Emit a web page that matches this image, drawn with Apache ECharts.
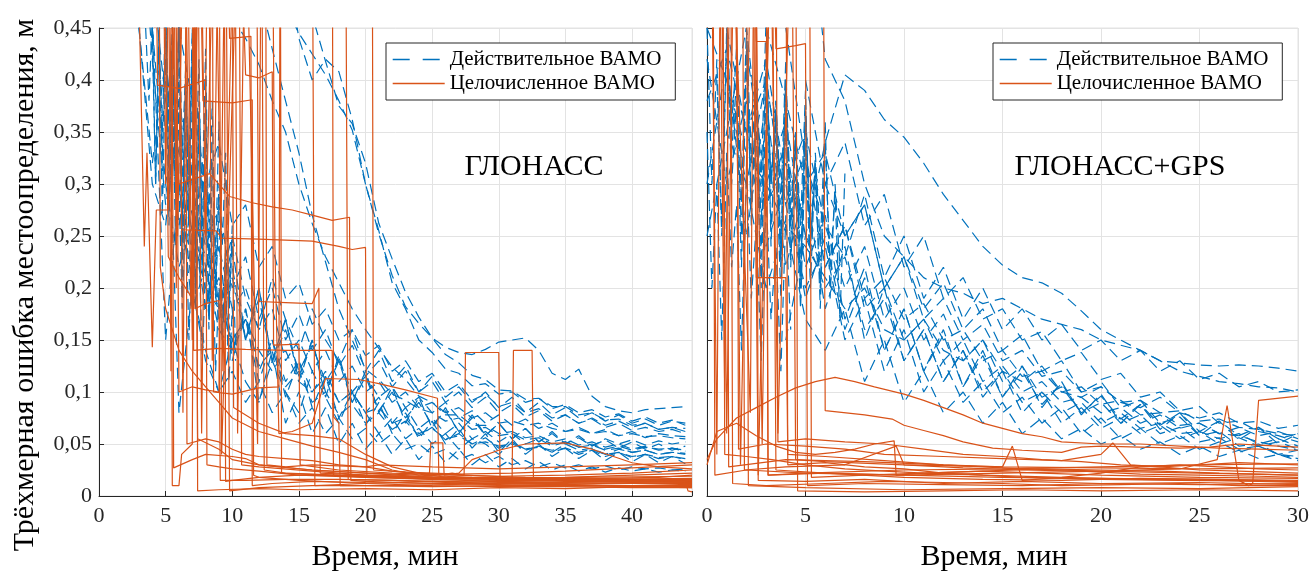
<!DOCTYPE html>
<html>

<head>
    <meta charset="utf-8">
    <title>ВАМО: ГЛОНАСС и ГЛОНАСС+GPS</title>
    <script src="https://cdn.jsdelivr.net/npm/echarts@6/dist/echarts.min.js"></script>
</head>

<body style="margin:0">
    <div id="main" style="width: 1312px;height:576px;"></div>
    <script type="text/javascript">
        // ---- data (errors in millimetres, time in minutes) ----
        var floatName = 'Действительное ВАМО';
        var fixName = 'Целочисленное ВАМО';
        var FLOAT_STEP = 1;
        var BURST_STEP = 0.25;

        // ГЛОНАСС, float solutions: start minute + values
        var gloFloatStart = [12, 14, 15, 12, 10, 3, 2, 4, 5, 4, 5, 6, 7, 3, 8, 5, 6, 9, 4];
        var gloFloatMm = [
            [600, 520, 470, 445, 425, 405, 380, 352, 300, 255, 205, 180, 150, 138, 122, 118, 106, 108, 98, 100, 90, 94, 84, 88, 80, 83, 76, 79, 72, 76, 70, 73, 68],
            [520, 440, 400, 420, 408, 362, 300, 252, 212, 182, 166, 152, 143, 138, 136, 141, 148, 150, 152, 140, 118, 112, 122, 96, 86, 82, 80, 83, 84, 85, 86],
            [500, 462, 418, 375, 358, 320, 262, 228, 196, 172, 152, 136, 128, 116, 112, 102, 101, 93, 94, 86, 86, 78, 80, 73, 74, 68, 70, 64, 66, 62],
            [480, 430, 380, 330, 270, 225, 180, 150, 122, 112, 98, 92, 84, 80, 72, 75, 64, 66, 58, 60, 54, 56, 50, 52, 47, 49, 44, 46, 42, 44, 40, 42, 40],
            [460, 440, 415, 380, 350, 300, 262, 230, 205, 180, 160, 142, 124, 112, 96, 90, 78, 78, 68, 68, 60, 62, 56, 58, 52, 55, 49, 52, 47, 50, 45, 48, 44, 46, 43],
            [600, 420, 280, 350, 250, 200, 180, 150, 170, 140, 120, 140, 110, 100, 120, 90, 100, 80, 85, 70, 75, 60, 65, 55, 58, 50, 52, 48, 50, 45, 47, 44, 46, 42, 45, 40, 42, 38, 40, 37, 38, 36],
            [600, 450, 300, 260, 380, 300, 220, 240, 180, 200, 160, 180, 130, 150, 120, 140, 110, 125, 100, 110, 90, 100, 85, 90, 80, 85, 75, 80, 70, 72, 68, 70, 65, 62, 64, 60, 62, 58, 60, 57, 58, 56, 55],
            [460, 150, 300, 200, 140, 100, 120, 90, 110, 80, 100, 70, 85, 60, 75, 55, 65, 50, 60, 45, 50, 40, 45, 35, 40, 32, 38, 30, 34, 28, 32, 27, 30, 26, 29, 25, 28, 26, 27, 25, 26],
            [450, 80, 200, 130, 100, 150, 110, 90, 130, 100, 80, 120, 95, 70, 100, 80, 60, 75, 55, 65, 50, 60, 45, 55, 50, 40, 52, 45, 48, 42, 50, 44, 46, 40, 45, 42, 44, 40, 42, 41],
            [500, 380, 330, 270, 230, 200, 250, 190, 160, 210, 170, 140, 180, 150, 130, 160, 120, 140, 110, 125, 100, 115, 95, 105, 90, 100, 85, 95, 80, 90, 78, 85, 75, 80, 72, 78, 70, 74, 68, 72, 70],
            [420, 300, 180, 220, 160, 140, 180, 120, 150, 110, 130, 100, 115, 90, 100, 80, 95, 70, 85, 65, 75, 60, 70, 55, 62, 52, 60, 50, 55, 48, 52, 47, 50, 45, 48, 44, 47, 45, 46, 44],
            [350, 200, 260, 170, 210, 150, 190, 130, 160, 120, 145, 110, 130, 100, 115, 95, 105, 85, 95, 80, 90, 75, 82, 70, 78, 68, 74, 65, 70, 62, 66, 60, 64, 58, 62, 56, 60, 58, 57],
            [300, 240, 280, 200, 230, 170, 200, 150, 175, 140, 160, 125, 145, 115, 130, 105, 120, 100, 110, 90, 100, 85, 95, 80, 88, 76, 82, 72, 78, 70, 75, 68, 72, 66, 70, 64, 66, 65],
            [450, 320, 420, 260, 330, 180, 240, 130, 180, 90, 140, 70, 100, 60, 85, 50, 70, 45, 60, 40, 55, 35, 48, 32, 45, 30, 40, 28, 36, 26, 33, 25, 30, 24, 28, 23, 27, 24, 26, 23, 25, 24],
            [250, 180, 220, 150, 200, 130, 170, 110, 150, 95, 135, 90, 120, 80, 105, 70, 95, 65, 85, 60, 78, 58, 70, 55, 65, 52, 62, 50, 58, 48, 55, 50, 54, 49, 53, 50, 52],
            [300, 220, 260, 180, 210, 150, 170, 125, 140, 105, 120, 90, 100, 78, 88, 70, 80, 64, 72, 58, 66, 54, 60, 50, 56, 46, 52, 44, 48, 42, 46, 40, 44, 38, 42, 37, 40, 36, 38, 35],
            [450, 380, 300, 340, 260, 280, 220, 240, 190, 205, 165, 180, 150, 160, 135, 145, 120, 130, 110, 118, 100, 108, 92, 98, 86, 90, 80, 84, 75, 78, 70, 74, 66, 70, 63, 66, 62, 64, 60],
            [200, 140, 170, 110, 150, 95, 130, 85, 115, 75, 100, 68, 90, 60, 80, 55, 72, 50, 65, 46, 60, 42, 55, 40, 50, 38, 46, 36, 44, 34, 42, 33, 40, 32, 38, 31],
            [450, 300, 380, 220, 300, 180, 240, 150, 200, 130, 170, 115, 150, 100, 130, 90, 115, 82, 100, 75, 90, 68, 82, 62, 75, 58, 70, 55, 65, 52, 60, 50, 56, 48, 54, 46, 52, 45, 50, 44, 48]
        ];
        var gloBurstStart = [3.5, 4.5, 5, 5.5, 6, 4];
        var gloBurstMm = [
            [450, 380, 460, 300, 440, 350, 470, 280, 420, 330, 460, 260, 400, 310, 450, 240, 380, 290, 430, 220, 350],
            [460, 320, 450, 260, 420, 300, 460, 230, 390, 280, 440, 200, 350, 250, 400, 180, 320, 230, 360, 170],
            [470, 350, 440, 280, 460, 330, 410, 250, 380, 300, 420, 220, 340, 270, 380, 200, 300, 240, 330, 180, 260],
            [400, 240, 380, 200, 350, 260, 330, 180, 300, 220, 310, 160, 270, 190, 280, 150, 240, 170, 250, 140],
            [300, 180, 280, 150, 260, 200, 240, 130, 220, 170, 230, 120, 200, 150, 210, 110, 180, 130],
            [440, 300, 450, 270, 420, 320, 460, 290, 410, 250, 400, 300, 430, 230, 370, 260]
        ];
        // ГЛОНАСС, integer (fixed) solutions: [minute, mm]
        var gloFixMm = [
            [[2.8, 600], [3.4, 240], [3.6, 330], [4, 143], [4.3, 275], [5.2, 275], [5.4, 450], [5.5, 10], [6, 10], [6.2, 40], [7, 50], [7.2, 500], [7.4, 55], [9, 45], [10, 35], [12, 30], [16, 25], [20, 22], [25, 18], [30, 16], [35, 15], [40, 14], [44.5, 13]],
            [[4.2, 600], [4.4, 395], [6, 392], [8, 400], [8.1, 30], [9, 28], [10, 26], [12, 24], [15, 20], [20, 18], [25, 17], [30, 16], [35, 15], [40, 14], [44.5, 14]],
            [[5, 600], [6, 300], [8.3, 310], [9.8, 288], [11.5, 282], [13, 278], [14.5, 275], [16, 270], [17.5, 265], [18.8, 268], [18.9, 15], [20, 14], [25, 12], [30, 11], [35, 10], [40, 10], [44.5, 9]],
            [[6, 600], [6.2, 256], [8.8, 255], [9.2, 248], [12, 247], [16, 245], [18, 240], [19, 237], [20, 239], [20.1, 20], [22, 18], [25, 16], [30, 14], [35, 13], [40, 12], [44.5, 12]],
            [[7.5, 600], [7.8, 380], [10, 378], [11.5, 381], [11.6, 20], [12, 18], [15, 15], [20, 12], [25, 10], [30, 9], [35, 9], [40, 8], [44.5, 8]],
            [[9.5, 600], [9.8, 440], [11.4, 442], [11.5, 10], [13, 12], [16, 14], [20, 13], [25, 12], [30, 12], [35, 11], [40, 10], [44.5, 10]],
            [[10.5, 600], [11, 405], [12, 402], [13, 408], [13.1, 145], [15, 146], [15.1, 30], [18, 25], [22, 22], [27, 20], [32, 18], [38, 16], [44.5, 15]],
            [[11.8, 600], [12, 187], [14, 186], [16, 185], [16.5, 200], [16.6, 22], [20, 20], [25, 18], [30, 17], [35, 16], [40, 15], [44.5, 15]],
            [[7, 600], [7.1, 140], [9, 142], [11, 141], [14, 140], [17.5, 140], [17.6, 20], [20, 18], [25, 16], [30, 15], [35, 14], [40, 14], [44.5, 13]],
            [[13, 600], [13.2, 240], [13.5, 60], [14.5, 62], [16, 70], [17, 113], [19.5, 112], [21, 108], [23, 102], [25.4, 94], [25.5, 20], [26.5, 22], [27.4, 20], [27.5, 138], [30, 138], [30.1, 15], [31, 16], [31.1, 140], [32.5, 140], [32.6, 18], [35, 17], [40, 16], [44.5, 16]],
            [[5.5, 450], [5.6, 27], [7, 35], [8, 40], [10, 38], [11, 36], [12, 30], [16, 25], [20, 22], [24, 20], [24.8, 22], [24.9, 51], [25.8, 51], [25.9, 20], [27, 22], [28, 35], [30, 44], [32, 50], [35, 51], [37, 45], [40, 32], [42, 28], [44.5, 26]],
            [[7.3, 600], [7.4, 5], [9, 6], [12, 7], [15, 6], [20, 7], [25, 6], [30, 8], [35, 7], [40, 9], [44.5, 8]],
            [[6.5, 600], [6.6, 50], [8, 55], [9, 52], [10, 45], [11, 40], [12, 38], [14, 36], [16, 34], [18, 30], [20, 28], [22, 24], [24, 22], [27, 20], [30, 19], [35, 20], [40, 22], [44.5, 25]],
            [[8.5, 600], [8.6, 100], [10, 98], [12, 104], [13.5, 105], [13.6, 600], [13.7, 22], [17, 20], [22, 18], [28, 17], [34, 16], [40, 15], [44.5, 14]],
            [[9.4, 600], [9.5, 14], [10, 15], [12, 18], [15, 20], [20, 19], [25, 18], [30, 17], [35, 18], [40, 20], [44.5, 22]],
            [[10, 600], [10.1, 85], [12, 70], [14, 60], [16, 58], [18, 55], [20, 40], [22, 28], [24, 22], [26, 18], [30, 16], [35, 15], [40, 14], [44.5, 13]],
            [[4.5, 600], [4.6, 220], [5, 180], [6, 140], [7, 120], [8, 105], [9, 90], [10, 75], [12, 62], [14, 55], [16, 48], [18, 42], [20, 35], [22, 25], [24, 20], [28, 18], [32, 17], [36, 16], [40, 16], [44.5, 15]],
            [[12.5, 600], [12.6, 30], [14, 28], [16, 30], [18, 29], [20, 28], [21, 30], [25, 28], [30, 26], [35, 28], [40, 30], [44.5, 32]],
            [[16, 600], [16.2, 10], [20, 12], [25, 14], [30, 12], [35, 11], [40, 13], [44.5, 12]],
            [[17.5, 600], [17.6, 76], [18, 70], [18.1, 10], [22, 10], [26, 11], [30, 12], [35, 12], [40, 13], [44, 14], [44.2, 5], [44.5, 4]],
            [[18.5, 600], [18.7, 16], [22, 15], [26, 13], [30, 14], [34, 15], [38, 17], [42, 18], [44.5, 20]],
            [[20.5, 600], [20.6, 25], [23, 23], [27, 21], [31, 22], [35, 24], [40, 27], [44.5, 30]],
            [[5, 450], [5.2, 230], [6, 210], [7, 190], [7.1, 600], [7.2, 180], [8, 185], [9, 188], [9.1, 15], [11, 15], [14, 16], [18, 16], [22, 15], [26, 14], [30, 13], [35, 13], [40, 12], [44.5, 11]],
            [[4, 600], [4.2, 450], [4.5, 600], [5.8, 450], [6, 100], [7, 105], [8, 102], [9, 100], [9.5, 600], [9.8, 5], [12, 8], [16, 10], [20, 10], [25, 9], [30, 10], [35, 10], [40, 9], [44.5, 10]],
            [[5.2, 600], [5.4, 120], [5.6, 600], [5.8, 200], [6, 600], [6.3, 80], [6.6, 600], [7, 150], [7.4, 600], [7.7, 60], [8.2, 600], [8.5, 130], [9, 600], [9.2, 40], [10.5, 600], [10.7, 30], [12, 28], [16, 24], [20, 20], [26, 18], [32, 17], [38, 16], [44.5, 17]],
            [[4.8, 600], [5, 300], [5.3, 600], [5.9, 250], [6.4, 600], [6.9, 180], [7.6, 600], [8, 250], [8.7, 600], [9.3, 120], [10.2, 600], [10.4, 60], [11, 600], [11.9, 50], [12.2, 600], [12.4, 25], [14, 22], [18, 20], [24, 18], [30, 17], [36, 18], [44.5, 19]]
        ];

        // ГЛОНАСС+GPS, float solutions
        var gpsFloatStart = [4, 5, 0, 0, 0, 1, 2, 0, 3, 1, 4, 2, 6, 5, 0, 1];
        var gpsFloatMm = [
            [150, 250, 340, 405, 390, 362, 345, 320, 290, 265, 240, 222, 210, 205, 195, 178, 160, 150, 140, 130, 128, 126, 125, 126, 125, 123, 120],
            [600, 420, 380, 300, 250, 230, 210, 200, 195, 185, 190, 180, 170, 165, 160, 150, 145, 140, 130, 120, 115, 110, 108, 105, 104, 100],
            [450, 400, 330, 300, 260, 240, 210, 180, 200, 160, 150, 170, 140, 130, 150, 120, 110, 125, 100, 95, 105, 90, 85, 95, 80, 75, 80, 70, 72, 65, 68],
            [380, 430, 350, 280, 320, 250, 220, 260, 190, 210, 170, 185, 150, 160, 130, 140, 115, 120, 100, 105, 88, 92, 78, 80, 68, 70, 60, 58, 52, 48, 44],
            [300, 420, 250, 380, 220, 300, 180, 240, 150, 200, 130, 160, 110, 140, 100, 120, 90, 100, 80, 90, 70, 80, 65, 70, 60, 62, 55, 60, 50, 55, 48],
            [450, 350, 400, 280, 330, 220, 260, 180, 200, 150, 170, 130, 150, 110, 125, 100, 110, 90, 95, 80, 85, 70, 78, 65, 70, 60, 66, 58, 62, 55],
            [430, 300, 360, 250, 200, 230, 160, 190, 130, 160, 110, 140, 95, 120, 80, 100, 70, 85, 65, 75, 60, 68, 55, 62, 50, 56, 48, 52, 45],
            [250, 350, 300, 400, 280, 200, 240, 150, 190, 120, 160, 100, 130, 90, 110, 80, 95, 70, 85, 60, 75, 55, 65, 50, 58, 45, 52, 42, 48, 40, 44],
            [450, 380, 300, 330, 250, 280, 200, 230, 170, 190, 150, 165, 130, 140, 115, 120, 100, 105, 90, 92, 80, 82, 72, 74, 66, 64, 60, 58],
            [400, 300, 200, 260, 170, 140, 180, 110, 150, 90, 120, 80, 100, 70, 90, 60, 75, 55, 65, 50, 58, 45, 52, 40, 48, 38, 44, 36, 40, 34],
            [450, 320, 260, 200, 240, 170, 200, 150, 175, 130, 150, 110, 125, 95, 105, 80, 90, 70, 78, 60, 66, 52, 56, 45, 48, 40, 36],
            [350, 420, 300, 350, 260, 230, 290, 210, 250, 190, 220, 170, 200, 160, 180, 150, 165, 140, 150, 130, 140, 120, 130, 112, 118, 105, 110, 100, 102],
            [300, 250, 280, 200, 230, 180, 205, 160, 180, 140, 155, 120, 130, 100, 110, 85, 92, 70, 76, 58, 62, 48, 50, 40, 38],
            [400, 300, 340, 260, 290, 220, 250, 190, 210, 170, 180, 150, 158, 130, 138, 112, 118, 95, 100, 82, 86, 70, 72, 62, 58, 52],
            [420, 300, 380, 240, 300, 190, 250, 160, 210, 140, 180, 120, 160, 105, 140, 95, 125, 85, 110, 78, 98, 70, 88, 64, 80, 58, 72, 54, 66, 50, 60],
            [350, 450, 280, 340, 220, 270, 170, 220, 140, 180, 120, 155, 105, 135, 95, 120, 88, 108, 80, 96, 74, 88, 68, 80, 62, 72, 58, 66, 55, 60]
        ];
        var gpsBurstStart = [0, 0.5, 1, 2, 0, 3];
        var gpsBurstMm = [
            [450, 300, 420, 260, 450, 330, 400, 250, 430, 280, 380, 230, 410, 300, 360, 220, 390, 260, 340, 200, 370, 240, 320],
            [400, 250, 440, 300, 380, 220, 420, 280, 350, 200, 390, 260, 330, 190, 360, 230, 300, 180, 340, 210],
            [460, 350, 430, 280, 450, 320, 400, 260, 420, 300, 370, 240, 400, 280, 340, 220, 370, 250, 310, 200, 340],
            [450, 260, 400, 300, 460, 240, 380, 280, 420, 220, 350, 260, 390, 200, 330, 240, 360, 190, 300, 220],
            [350, 200, 300, 150, 330, 220, 280, 140, 310, 190, 260, 130, 290, 170, 240, 120, 270, 160],
            [420, 300, 380, 220, 400, 260, 350, 200, 370, 240, 320, 180, 340, 220, 290, 170, 310]
        ];
        var gpsFixMm = [
            [[0, 35], [0.5, 55], [1.5, 75], [2.5, 85], [3.5, 95], [4.5, 104], [5.5, 110], [6.5, 114], [7.5, 110], [8.5, 105], [10, 98], [11, 92], [12, 85], [13, 78], [14, 70], [15, 65], [16, 60], [17, 57], [18, 52], [20, 50], [22, 50], [24, 48], [26, 46], [28, 45], [30, 44]],
            [[0, 30], [0.5, 62], [1.5, 70], [2.5, 58], [3.5, 48], [4.5, 42], [5.5, 40], [6.5, 42], [7.5, 45], [8.5, 50], [9.5, 53], [9.6, 20], [11, 22], [14, 24], [17, 22], [20, 20], [25, 18], [30, 17]],
            [[5.9, 600], [6, 82], [8, 78], [9.4, 74], [10, 68], [11, 63], [12, 58], [13, 52], [14.5, 46], [16, 44], [18, 42], [19, 47], [20, 48], [22, 47], [24, 46], [25.5, 47], [26, 48], [27, 50], [28, 49], [29, 48], [30, 47]],
            [[0.3, 600], [0.4, 20], [2, 25], [5, 22], [10, 20], [15, 22], [20, 24], [24, 26], [25.9, 35], [26.4, 87], [27, 15], [27.5, 10], [27.7, 12], [28, 92], [30, 96]],
            [[1, 600], [1.1, 28], [4, 35], [8, 33], [12, 30], [15, 28], [15.5, 48], [16, 15], [18, 18], [20, 22], [22, 28], [24, 30], [26, 28], [28, 26], [30, 25]],
            [[1.5, 600], [1.6, 45], [3, 50], [5, 48], [7, 45], [9, 40], [12, 38], [15, 36], [18, 34], [20, 40], [20.6, 51], [21.5, 30], [23, 28], [25, 30], [27, 32], [30, 30]],
            [[2, 600], [2.1, 10], [5, 8], [10, 6], [15, 7], [20, 8], [25, 7], [30, 9]],
            [[2.5, 600], [2.6, 15], [5, 14], [8, 16], [12, 12], [16, 14], [20, 12], [25, 13], [30, 11]],
            [[3, 600], [3.1, 20], [6, 22], [10, 18], [14, 16], [18, 15], [22, 17], [26, 16], [30, 14]],
            [[3.5, 600], [3.6, 52], [5, 55], [7, 52], [9, 50], [11, 45], [13, 40], [15, 38], [17, 35], [19, 33], [21, 30], [23, 28], [25, 25], [27, 24], [30, 22]],
            [[4, 600], [4.1, 30], [6, 32], [8, 28], [10, 26], [12, 22], [14, 20], [16, 18], [20, 16], [24, 15], [30, 14]],
            [[4.5, 600], [4.6, 5], [8, 4], [12, 5], [16, 6], [20, 5], [25, 6], [30, 5]],
            [[0.8, 600], [0.9, 40], [2, 38], [3.3, 35], [5, 30], [7, 26], [9, 24], [11, 22], [14, 20], [18, 18], [22, 16], [26, 15], [30, 13]],
            [[5.2, 600], [5.3, 18], [8, 20], [11, 22], [14, 24], [17, 26], [20, 25], [23, 24], [26, 22], [30, 20]],
            [[1.2, 600], [1.3, 12], [3, 10], [6, 12], [9, 14], [12, 13], [15, 12], [18, 10], [21, 11], [24, 12], [27, 10], [30, 10]],
            [[1.8, 600], [1.9, 25], [4, 28], [7, 30], [9.6, 48], [10, 30], [13, 27], [16, 25], [19, 24], [22, 21], [25, 20], [28, 19], [30, 18]],
            [[0, 450], [0.2, 600], [0.5, 40], [0.7, 600], [1, 60], [1.4, 600], [1.7, 30], [2.3, 600], [2.6, 20], [3.3, 600], [3.5, 25], [6, 22], [10, 20], [15, 18], [20, 17], [25, 16], [30, 15]],
            [[0.6, 600], [0.9, 100], [1.2, 600], [2.2, 80], [2.4, 600], [2.8, 50], [3.2, 600], [3.6, 60], [4.3, 600], [4.5, 35], [6, 33], [10, 30], [15, 28], [20, 27], [25, 26], [30, 27]],
            [[2.3, 600], [2.5, 437], [3, 437], [3.1, 20], [5, 22], [10, 25], [15, 26], [20, 28], [25, 30], [30, 31]],
            [[3.3, 600], [3.5, 430], [4.5, 433], [5, 435], [5.1, 10], [8, 12], [12, 11], [16, 10], [20, 12], [25, 11], [30, 12]],
            [[2.4, 600], [2.5, 210], [4, 210], [4.1, 40], [6, 38], [9, 34], [12, 30], [16, 26], [20, 24], [25, 22], [30, 20]]
        ];

        var yTicks = { min: 0, max: 0.45, interval: 0.05 };

        // ---- chart ----
        var chartDom = document.getElementById('main');
        var myChart = echarts.init(chartDom);
        var option;

        var BLUE = '#0072BD';
        var ORANGE = '#D95319';
        var FONT = "'Liberation Serif', 'Times New Roman', serif";
        var TXT = '#262626';

        function stepData(start, vals, step) {
            return vals.map(function (v, i) { return [start + i * step, v / 1000]; });
        }

        function pairData(pts) {
            return pts.map(function (p) { return [p[0], p[1] / 1000]; });
        }

        function line(name, data, idx, color, dashed) {
            return {
                name: name,
                type: 'line',
                xAxisIndex: idx,
                yAxisIndex: idx,
                data: data,
                symbol: 'none',
                showSymbol: false,
                silent: true,
                clip: true,
                lineStyle: { color: color, width: 1.2, type: dashed ? [11, 6] : 'solid' },
                itemStyle: { color: color },
                emphasis: { disabled: true }
            };
        }

        var series = [];
        function addPanel(idx, fStart, fVals, bStart, bVals, fix) {
            fVals.forEach(function (v, i) {
                series.push(line(floatName, stepData(fStart[i], v, FLOAT_STEP), idx, BLUE, true));
            });
            bVals.forEach(function (v, i) {
                series.push(line(floatName, stepData(bStart[i], v, BURST_STEP), idx, BLUE, true));
            });
            fix.forEach(function (p) {
                series.push(line(fixName, pairData(p), idx, ORANGE, false));
            });
        }
        addPanel(0, gloFloatStart, gloFloatMm, gloBurstStart, gloBurstMm, gloFixMm);
        addPanel(1, gpsFloatStart, gpsFloatMm, gpsBurstStart, gpsBurstMm, gpsFixMm);

        function xAxis(idx, max) {
            return {
                type: 'value', gridIndex: idx, min: 0, max: max, interval: 5,
                axisLine: { onZero: false, lineStyle: { color: TXT, width: 1 } },
                axisTick: { inside: true, length: 5, lineStyle: { color: TXT } },
                axisLabel: {
                    color: TXT, fontFamily: FONT, fontSize: 22, margin: 9,
                    formatter: function (v) { return v % 5 === 0 ? String(v) : ''; }
                },
                splitLine: { show: true, lineStyle: { color: '#e3e3e3', width: 1 } }
            };
        }
        function yAxis(idx, showLabels) {
            return {
                type: 'value', gridIndex: idx, min: yTicks.min, max: yTicks.max, interval: yTicks.interval,
                axisLine: { show: true, onZero: false, lineStyle: { color: TXT, width: 1 } },
                axisTick: { show: true, inside: true, length: 5, lineStyle: { color: TXT } },
                axisLabel: {
                    show: showLabels, color: TXT, fontFamily: FONT, fontSize: 22, margin: 7,
                    formatter: function (v) {
                        return v === 0 ? '0' : String(Math.round(v * 100) / 100).replace('.', ',');
                    }
                },
                splitLine: { show: true, lineStyle: { color: '#e3e3e3', width: 1 } }
            };
        }
        function legend(left) {
            return {
                left: left, top: 43, orient: 'vertical',
                data: [
                    { name: floatName, lineStyle: { type: [17, 13], width: 1.4 } },
                    { name: fixName, lineStyle: { width: 1.4 } }
                ],
                itemWidth: 52, itemHeight: 14, itemGap: 3,
                padding: [6, 14, 6, 6],
                itemStyle: { opacity: 0 },
                backgroundColor: '#fff', borderColor: TXT, borderWidth: 1, borderRadius: 0,
                textStyle: { fontFamily: FONT, fontSize: 21, color: '#000' },
                selectedMode: false
            };
        }

        option = {
            animation: false,
            backgroundColor: '#fff',
            grid: [
                { left: 99, top: 28, width: 593, height: 468, show: true, borderColor: '#e3e3e3', borderWidth: 1 },
                { left: 707, top: 28, width: 593, height: 468, show: true, borderColor: '#e3e3e3', borderWidth: 1 }
            ],
            xAxis: [xAxis(0, 44.5), xAxis(1, 30)],
            yAxis: [yAxis(0, true), yAxis(1, false)],
            legend: [legend(386), legend(993)],
            graphic: [
                { type: 'text', x: 534, y: 167, z: 100, style: { text: 'ГЛОНАСС', font: '30px ' + FONT, fill: '#000', textAlign: 'center', textVerticalAlign: 'middle' } },
                { type: 'text', x: 1120, y: 167, z: 100, style: { text: 'ГЛОНАСС+GPS', font: '30px ' + FONT, fill: '#000', textAlign: 'center', textVerticalAlign: 'middle' } },
                { type: 'text', x: 385, y: 557, style: { text: 'Время, мин', font: '30px ' + FONT, fill: '#000', textAlign: 'center', textVerticalAlign: 'middle' } },
                { type: 'text', x: 994, y: 557, style: { text: 'Время, мин', font: '30px ' + FONT, fill: '#000', textAlign: 'center', textVerticalAlign: 'middle' } },
                { type: 'text', x: 25, y: 285, rotation: Math.PI / 2, style: { text: 'Трёхмерная ошибка местоопределения, м', font: '30px ' + FONT, fill: '#000', textAlign: 'center', textVerticalAlign: 'middle' } }
            ],
            series: series
        };

        option && myChart.setOption(option);
    </script>
</body>

</html>
